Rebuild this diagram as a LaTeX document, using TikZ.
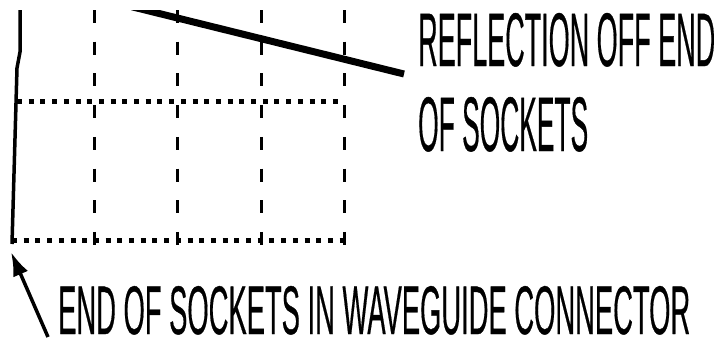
\documentclass[tikz,border=0pt]{standalone}
\usepackage{fontspec}
\setmainfont{Liberation Sans}
\newfontfamily\labelfont[FakeBold=0.6]{Liberation Sans}
\usetikzlibrary{arrows.meta,calc}
\begin{document}
\begin{tikzpicture}[x=1pt,y=-1pt,
  vgrid/.style={line width=3pt,dash pattern=on 13pt off 18.7pt},
  hgrid/.style={line width=5pt,dash pattern=on 5pt off 6.7pt},
  trace/.style={line width=3.5pt,line join=round},
  leader/.style={line width=7pt},
  pointer/.style={line width=3.5pt,-{Latex[length=24pt,width=16pt]}},
  label/.style={inner sep=0pt,anchor=base west,font=\labelfont}]
\useasboundingbox (0,0) rectangle (721,343);
% vertical dashed grid lines
\foreach \x in {94,177.5,261,344}
  \draw[vgrid] (\x,10) -- (\x,245);
% horizontal dotted grid lines
\draw[hgrid] (17,101) -- (342,101);
\draw[hgrid] (12,240) -- (345,240);
% trace
\draw[trace] (20,10) -- (20,52) -- (17,68) -- (12,244);
% labels
\node[label] (t1) at (418,66) {\resizebox{297pt}{53pt}{REFLECTION OFF END}};
\node[label] (t2) at (418,151) {\resizebox{170pt}{54pt}{OF SOCKETS}};
\node[label] (t3) at (58,334) {\resizebox{632pt}{48pt}{END OF SOCKETS IN WAVEGUIDE CONNECTOR}};
% leader line to reflection
\coordinate (r0) at (145,10);
\coordinate (r1) at (404,74);
\begin{scope}
\clip (0,10) rectangle (721,343);
\draw[leader] ($(r0)!-0.05!(r1)$) -- (r1);
\end{scope}
% arrow to end of sockets
\coordinate (a0) at (48,337);
\coordinate (a1) at (11,252);
\draw[pointer] (a0) -- (a1);
\end{tikzpicture}
\end{document}
